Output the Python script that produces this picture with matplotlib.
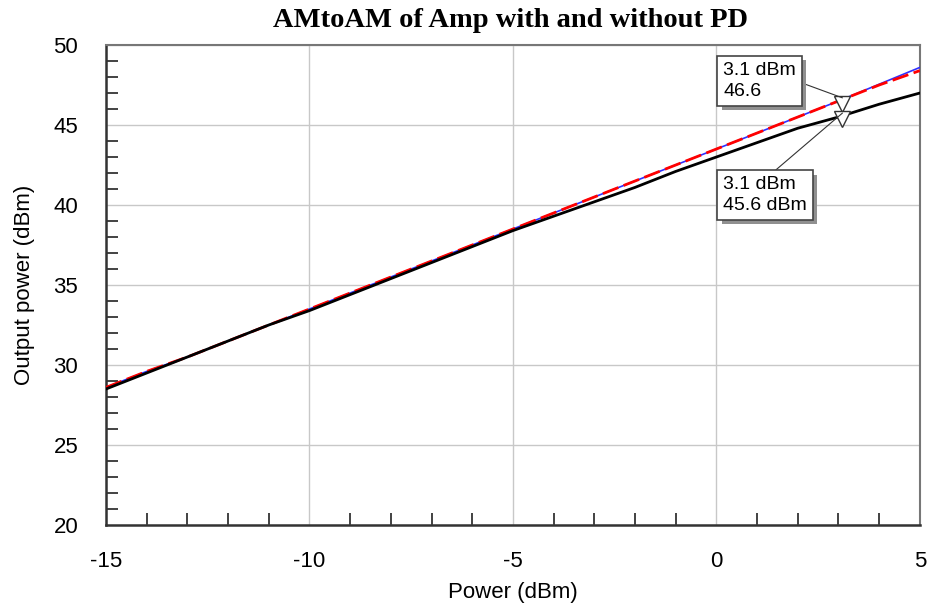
import matplotlib
matplotlib.use("Agg")
import matplotlib.pyplot as plt
import matplotlib.patheffects as pe
from matplotlib.ticker import MultipleLocator
from matplotlib.transforms import offset_copy

# Input power (dBm)
potencia = [-15, -14, -13, -12, -11, -10, -9, -8, -7, -6, -5,
            -4, -3, -2, -1, 0, 1, 2, 3, 4, 5]
# Amp without PD (black)
saida_sem_pd = [28.5, 29.5, 30.5, 31.5, 32.5, 33.4, 34.4, 35.4, 36.4, 37.4, 38.4,
                39.3, 40.2, 41.1, 42.1, 43.0, 43.9, 44.8, 45.5, 46.3, 47.0]
# Amp with PD (red dashed) and ideal (blue)
saida_com_pd = [28.6, 29.6, 30.5, 31.5, 32.5, 33.5, 34.5, 35.5, 36.5, 37.5, 38.5,
                39.5, 40.5, 41.5, 42.5, 43.5, 44.5, 45.5, 46.5, 47.5, 48.4]
saida_linear = [28.6, 29.6, 30.5, 31.5, 32.5, 33.5, 34.5, 35.5, 36.5, 37.5, 38.5,
                39.5, 40.5, 41.5, 42.5, 43.5, 44.5, 45.5, 46.5, 47.55, 48.6]

marcadores_x = [3.1, 3.1]
marcadores_y = [46.7, 45.75]
marcadores_txt = ["3.1 dBm\n46.6", "3.1 dBm\n45.6 dBm"]

plt.rcParams["font.family"] = ["Liberation Sans", "DejaVu Sans"]
plt.rcParams["axes.unicode_minus"] = False

fig = plt.figure(figsize=(9.3, 6.09), dpi=100)
ax = fig.add_axes([0.114, 0.138, 0.875, 0.788])

ax.plot(potencia, saida_linear, color="#3030ff", lw=1.2, zorder=3)
ax.plot(potencia, saida_com_pd, color="#ff0000", lw=2, dashes=(6, 2), zorder=4)
ax.plot(potencia, saida_sem_pd, color="black", lw=2, zorder=5)

# os triângulos ficam logo abaixo do ponto marcado
desloca = offset_copy(ax.transData, fig=fig, y=-6, units="dots")
ax.plot(marcadores_x, marcadores_y, linestyle="none", marker="v", ms=11,
        mfc="white", mec="#333333", mew=1, zorder=6, transform=desloca)

caixas = [((0.17, 48.95), (1.0, 0.5)), ((0.17, 41.8), (0.54, 1.0))]
sombra = [pe.SimplePatchShadow(offset=(3, -3), shadow_rgbFace="#909090", alpha=1),
          pe.Normal()]
for xm, ym, texto, ((xt, yt), relpos) in zip(marcadores_x, marcadores_y,
                                              marcadores_txt, caixas):
    ax.annotate(texto, xy=(xm, ym), xytext=(xt, yt), fontsize=14,
                va="top", ha="left", linespacing=1.3,
                bbox=dict(boxstyle="square,pad=0.3", fc="white", ec="#444444",
                          lw=1.2, path_effects=sombra),
                arrowprops=dict(arrowstyle="-", color="#333333", lw=0.8,
                                shrinkA=0, shrinkB=0, relpos=relpos),
                zorder=7)

ax.set_xlim(-15, 5)
ax.set_ylim(20, 50)
ax.xaxis.set_major_locator(MultipleLocator(5))
ax.yaxis.set_major_locator(MultipleLocator(5))
ax.xaxis.set_minor_locator(MultipleLocator(1))
ax.yaxis.set_minor_locator(MultipleLocator(1))
ax.tick_params(which="major", length=0, labelsize=16)
ax.tick_params(axis="x", which="major", pad=19)
ax.tick_params(axis="y", which="major", pad=20)
ax.tick_params(which="minor", direction="in", length=8.5, width=1.2, color="#222222")
ax.tick_params(which="minor", top=False, right=False)
ax.grid(which="major", color="#c8c8c8", lw=1)

for lado in ["left", "bottom"]:
    ax.spines[lado].set_color("#333333")
    ax.spines[lado].set_linewidth(1.8)
for lado in ["top", "right"]:
    ax.spines[lado].set_color("#777777")
    ax.spines[lado].set_linewidth(1.5)

ax.set_xlabel("Power (dBm)", fontsize=16, labelpad=7)
ax.set_ylabel("Output power (dBm)", fontsize=16, labelpad=13)
fig.text(0.549, 0.966, "AMtoAM of Amp with and without PD", ha="center", va="center",
         fontsize=20.5, fontweight="bold", family="Liberation Serif")

fig.savefig("out.png", dpi=100)
